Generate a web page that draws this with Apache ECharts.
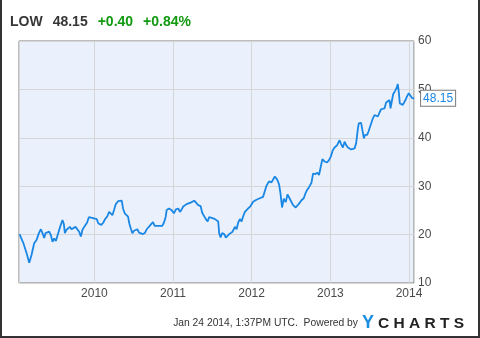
<!DOCTYPE html>
<html>
<head>
<meta charset="utf-8">
<script src="https://cdn.jsdelivr.net/npm/echarts@6/dist/echarts.min.js"></script>
<style>
  html, body { margin: 0; padding: 0; background: #fff; }
  #chart { width: 480px; height: 338px; }
</style>
</head>
<body>
<div id="chart"></div>
<script>
  // LOW weekly closes, Jan 2009 - Jan 2014 (x as decimal year)
  const years = [
    2009.048, 2009.095, 2009.137, 2009.171, 2009.200, 2009.234, 2009.264, 2009.294, 2009.319, 2009.340,
    2009.361, 2009.378, 2009.403, 2009.425, 2009.446, 2009.467, 2009.488, 2009.510, 2009.539, 2009.568,
    2009.594, 2009.611, 2009.624, 2009.644, 2009.666, 2009.688, 2009.708, 2009.733, 2009.759, 2009.784,
    2009.806, 2009.827, 2009.848, 2009.878, 2009.907, 2009.929, 2009.954, 2009.983,
    2010.030, 2010.051, 2010.069, 2010.089, 2010.114, 2010.136, 2010.165, 2010.187, 2010.208, 2010.229,
    2010.250, 2010.272, 2010.301, 2010.326, 2010.348, 2010.364, 2010.386, 2010.406, 2010.428, 2010.444,
    2010.462, 2010.483, 2010.504, 2010.526, 2010.546, 2010.568, 2010.589, 2010.618, 2010.644, 2010.665,
    2010.682, 2010.703, 2010.724, 2010.745, 2010.767, 2010.787, 2010.809, 2010.834, 2010.863, 2010.885,
    2010.907, 2010.919, 2010.949, 2010.978,
    2011.012, 2011.037, 2011.067, 2011.088, 2011.110, 2011.130, 2011.152, 2011.173, 2011.194, 2011.224,
    2011.249, 2011.270, 2011.291, 2011.321, 2011.351, 2011.371, 2011.393, 2011.418, 2011.440, 2011.460,
    2011.482, 2011.503, 2011.533, 2011.554, 2011.575, 2011.587, 2011.605, 2011.625, 2011.651, 2011.672,
    2011.694, 2011.714, 2011.736, 2011.757, 2011.787, 2011.808, 2011.829, 2011.850, 2011.872, 2011.892,
    2011.914, 2011.935, 2011.956, 2011.986,
    2012.019, 2012.062, 2012.104, 2012.146, 2012.168, 2012.189, 2012.222, 2012.253, 2012.273, 2012.295,
    2012.324, 2012.349, 2012.367, 2012.387, 2012.409, 2012.434, 2012.456, 2012.485, 2012.507, 2012.527,
    2012.561, 2012.578, 2012.603, 2012.634, 2012.663, 2012.684, 2012.705, 2012.730, 2012.761, 2012.781,
    2012.811, 2012.837, 2012.857, 2012.875, 2012.900, 2012.929, 2012.959, 2012.984,
    2013.002, 2013.031, 2013.053, 2013.086, 2013.116, 2013.136, 2013.158, 2013.180, 2013.200, 2013.222,
    2013.243, 2013.263, 2013.285, 2013.307, 2013.327, 2013.349, 2013.361, 2013.390, 2013.412, 2013.425,
    2013.441, 2013.467, 2013.484, 2013.510, 2013.539, 2013.561, 2013.581, 2013.602, 2013.624, 2013.644,
    2013.666, 2013.688, 2013.708, 2013.729, 2013.751, 2013.764, 2013.780, 2013.797, 2013.822, 2013.844,
    2013.856, 2013.869, 2013.882, 2013.898, 2013.920, 2013.933, 2013.954, 2013.975, 2013.996,
    2014.018, 2014.038, 2014.064
  ];
  const prices = [
    20.1, 18.3, 16.2, 14.2, 15.8, 18.2, 18.9, 20.3, 21.1, 20.3,
    19.3, 20.3, 20.5, 20.6, 19.9, 18.5, 19.2, 18.7, 20.3, 21.8,
    23.0, 22.2, 20.3, 21.0, 21.3, 21.6, 21.1, 21.2, 21.6, 21.5,
    20.6, 19.6, 21.0, 21.8, 22.5, 23.6, 23.9, 23.4,
    23.2, 22.3, 22.7, 22.0, 22.5, 23.2, 23.8, 24.7, 24.4, 24.0,
    25.1, 26.3, 26.9, 27.0, 27.0, 25.4, 24.4, 24.2, 23.7, 22.3,
    21.3, 20.3, 20.8, 20.4, 21.1, 20.4, 20.3, 20.1, 20.4, 21.1,
    21.1, 21.8, 22.2, 22.6, 21.8, 21.4, 21.8, 21.6, 21.8, 22.5,
    23.7, 25.1, 25.4, 25.1,
    24.4, 25.2, 25.4, 24.7, 25.2, 25.8, 25.7, 26.3, 26.5, 26.6,
    26.8, 27.0, 26.6, 26.1, 25.9, 24.5, 24.3, 23.2, 22.7, 23.6,
    23.6, 23.4, 23.2, 22.9, 22.7, 20.3, 19.4, 20.3, 20.1, 19.4,
    19.2, 20.1, 19.9, 20.6, 21.6, 21.1, 22.5, 23.2, 22.7, 23.8,
    24.7, 24.5, 25.4, 25.9,
    26.8, 27.2, 27.5, 27.8, 28.0, 30.1, 31.0, 30.8, 30.5, 32.0,
    31.4, 30.4, 28.5, 25.6, 27.4, 26.7, 28.3, 27.4, 27.1, 26.1,
    25.6, 25.2, 26.4, 27.1, 27.5, 28.5, 29.2, 29.8, 30.7, 32.6,
    32.5, 32.8, 32.3, 33.7, 35.6, 35.1, 34.9, 35.4,
    36.0, 37.5, 38.0, 38.5, 39.5, 38.7, 38.0, 39.2, 38.5, 38.0,
    38.3, 37.6, 37.5, 37.8, 38.9, 41.9, 43.0, 43.1, 43.0, 39.9,
    40.6, 40.6, 41.3, 42.6, 44.0, 44.7, 44.7, 44.4, 45.2, 45.9,
    46.3, 46.1, 47.3, 47.5, 47.8, 46.1, 47.5, 49.0, 49.7, 50.4,
    51.1, 49.5, 47.1, 47.5, 46.8, 46.6, 47.8, 48.6, 49.2,
    48.8, 48.2, 48.15
  ];
  const yTicks = [10, 20, 30, 40, 50, 60];
  const rangeStart = '2009-01-16';
  const rangeEnd = '2014-01-24';

  const ticker = 'LOW';
  const lastPrice = '48.15';
  const change = '+0.40';
  const changePct = '+0.84%';
  const stamp = 'Jan 24 2014, 1:37PM UTC.  Powered by';

  function yearToTime(yr) {
    const y = Math.floor(yr);
    return Date.UTC(y, 0, 1) + (yr - y) * 365.25 * 864e5;
  }
  const seriesData = years.map((yr, i) => [yearToTime(yr), prices[i]]);
  const lastPoint = seriesData[seriesData.length - 1];

  const chart = echarts.init(document.getElementById('chart'));
  const font = '"Liberation Sans", Arial, sans-serif';

  const option = {
    animation: false,
    title: {
      left: 10,
      top: 13,
      padding: 0,
      text: `{d|${ticker}}  {d|${lastPrice}}  {g|${change}}  {g|${changePct}}`,
      textStyle: {
        fontFamily: font,
        rich: {
          d: { fontSize: 14, fontWeight: 'bold', color: '#363636', fontFamily: font },
          g: { fontSize: 14, fontWeight: 'bold', color: '#109a10', fontFamily: font }
        }
      }
    },
    grid: {
      left: 19,
      top: 41,
      right: 66,
      bottom: 55,
      show: true,
      backgroundColor: '#eaf1fc',
      borderColor: '#7a7a7a',
      borderWidth: 1
    },
    xAxis: {
      type: 'time',
      min: rangeStart,
      max: rangeEnd,
      minInterval: 365 * 864e5,
      maxInterval: 366 * 864e5,
      axisLine: { show: false },
      axisTick: { show: false },
      splitLine: { show: true, lineStyle: { color: '#d6d6d6', width: 1 } },
      axisLabel: {
        formatter: '{yyyy}',
        color: '#4a4a4a',
        fontSize: 12,
        fontFamily: font,
        margin: 5,
        showMinLabel: false,
        showMaxLabel: false
      }
    },
    yAxis: {
      type: 'value',
      position: 'right',
      min: yTicks[0],
      max: yTicks[yTicks.length - 1],
      interval: 10,
      axisLine: { show: false },
      axisTick: { show: false },
      splitLine: { show: true, lineStyle: { color: '#d6d6d6', width: 1 } },
      axisLabel: {
        color: '#4a4a4a',
        fontSize: 12,
        fontFamily: font,
        margin: 4
      }
    },
    series: [
      {
        type: 'line',
        data: seriesData,
        clip: false,
        showSymbol: false,
        symbol: 'none',
        lineStyle: { color: '#1a87e5', width: 1.8 },
        endLabel: {
          show: true,
          formatter: lastPrice,
          distance: 7,
          color: '#1a87e5',
          fontSize: 12,
          fontFamily: font,
          backgroundColor: '#fff',
          borderColor: '#7a7a7a',
          borderWidth: 1,
          padding: [2, 2, 1, 2]
        },
        markPoint: {
          silent: true,
          z: 10,
          label: { show: false },
          data: [
            {
              coord: lastPoint,
              symbol: 'triangle',
              symbolRotate: 90,
              symbolSize: [8, 5],
              symbolOffset: [4, 0],
              itemStyle: { color: '#fff', borderColor: '#7a7a7a', borderWidth: 1 }
            }
          ]
        }
      }
    ],
    graphic: [
      {
        type: 'polyline',
        shape: { points: [[1, 0], [1, 337], [479, 337], [479, 0]] },
        style: { stroke: '#333', lineWidth: 2, fill: null }
      },
      {
        type: 'text',
        right: 122,
        top: 318,
        style: { text: stamp, fill: '#333', font: '10.3px ' + font }
      },
      {
        type: 'text',
        left: 362,
        top: 314,
        style: { text: 'Y', fill: '#1b8de0', font: 'bold 18px ' + font }
      },
      {
        type: 'text',
        left: 378,
        top: 316,
        style: { text: 'C H A R T S', fill: '#222', font: 'bold 15.5px ' + font }
      }
    ]
  };

  chart.setOption(option);
</script>
</body>
</html>
